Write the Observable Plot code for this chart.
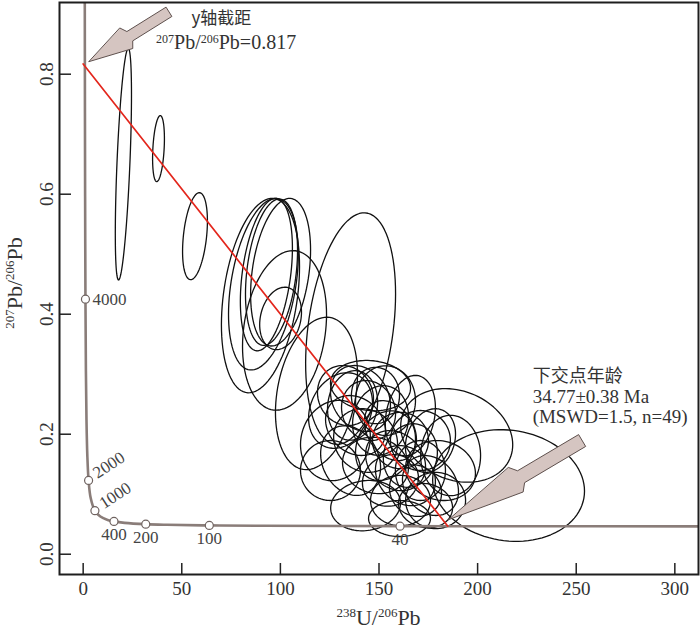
<!DOCTYPE html>
<html><head><meta charset="utf-8">
<script src="https://cdn.jsdelivr.net/npm/d3@7"></script>
<script src="https://cdn.jsdelivr.net/npm/@observablehq/plot@0.6"></script>
<style>body{margin:0;background:#fff}#chart{width:700px;height:631px}</style>
</head><body><div id="chart"></div>
<script>
// ---- data ----
const xTicks = [0, 50, 100, 150, 200, 250, 300];
const yTicks = [0.0, 0.2, 0.4, 0.6, 0.8];

// concordia curve (Tera-Wasserburg), read points
const concX = [0.8246,0.8533,0.9045,0.9902,1.1630,1.3868,1.6875,2.1108,2.7490,3.8169,5.9595,8.7182,12.399,15.621,20.992,31.735,42.477,63.966,91.59,160.66,214.37,312];
const concY = [0.9201,0.8453,0.7346,0.5967,0.4250,0.3058,0.2227,0.1643,0.1230,0.0936,0.0725,0.0628,0.0572,0.0547,0.0523,0.0501,0.0491,0.0480,0.0474,0.0468,0.0466,0.04645];

// age markers on concordia (Ma)
const ageLabels = [4000, 2000, 1000, 400, 200, 100, 40];
const ageX = [1.163, 2.749, 5.959, 15.621, 31.735, 63.966, 160.66];
const ageY = [0.4250, 0.1230, 0.0725, 0.0547, 0.0501, 0.0480, 0.0468];

// discordia line: upper intercept 0.817, lower intercept at 34.77 Ma
const discX = [0, 184.9];
const discY = [0.817, 0.0467];

// error ellipses: centre, half extents, correlation
const ellX  = [20.4,38.2,56.7,89.9,91.4,92.9,95.5,100.1,102.1,100.1,135.6,118.3,
  133.0,136.6,140.6,130.5,144.7,148.2,138.1,150.8,143.2,155.8,153.3,160.9,158.4,165.9,148.2,163.4,171.0,155.8,168.5,176.1,160.9,173.6,160.4,135.6,127.9,125.4,145.7,186.3,181.2,176.1,153.3,165.9,171.0,178.7,143.2,189.4,215.7];
const ellY  = [0.650,0.676,0.530,0.431,0.450,0.466,0.470,0.470,0.373,0.393,0.376,0.268,
  0.2645,0.248,0.2595,0.2395,0.2395,0.2645,0.2145,0.223,0.1895,0.206,0.181,0.1895,0.156,0.1645,0.148,0.131,0.1395,0.123,0.106,0.1145,0.0895,0.081,0.0595,0.156,0.1895,0.1395,0.281,0.1645,0.1395,0.1895,0.256,0.231,0.1895,0.0895,0.081,0.198,0.1145];
const ellSX = [4.1,3.0,6.3,19.8,17.7,13.2,13.2,15.2,21.3,10.6,22.8,20.8,
  14.2,12.7,15.2,16.2,13.7,12.2,15.2,14.2,16.2,13.2,15.2,14.2,15.2,13.7,16.7,15.2,12.7,14.2,13.2,14.2,15.2,13.7,15.7,15.2,17.7,15.2,20.3,15.2,17.7,12.7,15.2,12.7,15.2,15.2,17.7,28.4,38.5];
const ellSY = [0.193,0.055,0.0725,0.162,0.143,0.127,0.122,0.123,0.133,0.052,0.193,0.127,
  0.050,0.058,0.055,0.063,0.050,0.047,0.050,0.058,0.053,0.050,0.058,0.047,0.050,0.053,0.047,0.050,0.050,0.043,0.043,0.050,0.042,0.037,0.030,0.058,0.067,0.050,0.042,0.067,0.050,0.053,0.058,0.067,0.050,0.047,0.042,0.078,0.093];
const ellRho = [0.6,0.3,0.35,0.3,0.35,0.35,0.3,0.3,0.2,0.2,0.3,0.25,
  -0.1,0.1,-0.2,0.2,-0.1,0,-0.2,0.1,-0.1,-0.3,0.2,0,-0.2,0.1,-0.1,-0.2,0,0.1,-0.1,-0.2,0,-0.1,0,-0.2,0.1,0,-0.1,0,-0.1,0.2,0,0.2,0,0,0.1,-0.2,-0.1];

// annotation arrows (tip and tail in data units)
const arrowTipX = [3.0, 185.4], arrowTipY = [0.821, 0.0578];
const arrowTailX = [43.5, 253.0], arrowTailY = [0.904, 0.1895];

// ---- layout ----
const W = 700, H = 631, mL = 59, mR = 2, mT = 2, mB = 57;
const xDom = [-12, 312], yDom = [-0.0338, 0.9195];
const xs = d3.scaleLinear(xDom, [mL, W - mR]);
const ys = d3.scaleLinear(yDom, [H - mB, mT]);

// ellipse outlines from parameters
const ellPts = [];
ellX.forEach((cx, i) => {
  const n = 96, r = ellRho[i], q = Math.sqrt(1 - r * r);
  for (let k = 0; k < n; k++) {
    const t = 2 * Math.PI * k / n;
    ellPts.push({id: i, x: cx + ellSX[i] * Math.cos(t), y: ellY[i] + ellSY[i] * (r * Math.cos(t) + q * Math.sin(t))});
  }
});
const conc = concX.map((x, i) => ({x, y: concY[i]}));
const ages = ageLabels.map((a, i) => ({age: a, x: ageX[i], y: ageY[i]}));
const disc = discX.map((x, i) => ({x, y: discY[i]}));

// block-arrow polygons (shape sizes in px)
const arrowShape = [
  {headLen: 44, headHalf: 12, notchLen: 48, shaftHalf: 5.5},
  {headLen: 78, headHalf: 14.2, notchLen: 84, shaftHalf: 6.9}
];
const arrowPts = [];
arrowTipX.forEach((_, i) => {
  const tx = xs(arrowTipX[i]), ty = ys(arrowTipY[i]);
  const ex = xs(arrowTailX[i]), ey = ys(arrowTailY[i]);
  const L = Math.hypot(ex - tx, ey - ty), ux = (ex - tx) / L, uy = (ey - ty) / L;
  const nx = -uy, ny = ux;
  const s = arrowShape[i];
  const P = [
    [tx, ty],
    [tx + ux * s.headLen + nx * s.headHalf, ty + uy * s.headLen + ny * s.headHalf],
    [tx + ux * s.notchLen + nx * s.shaftHalf, ty + uy * s.notchLen + ny * s.shaftHalf],
    [ex + nx * s.shaftHalf, ey + ny * s.shaftHalf],
    [ex - nx * s.shaftHalf, ey - ny * s.shaftHalf],
    [tx + ux * s.notchLen - nx * s.shaftHalf, ty + uy * s.notchLen - ny * s.shaftHalf],
    [tx + ux * s.headLen - nx * s.headHalf, ty + uy * s.headLen - ny * s.headHalf]
  ];
  P.forEach(([px, py]) => arrowPts.push({id: i, x: xs.invert(px), y: ys.invert(py)}));
});

const serif = "Liberation Serif, Times New Roman, serif";
const cjk = "Noto Sans CJK SC, sans-serif";
const txt = "#333";

const plot = Plot.plot({
  width: W, height: H, marginLeft: mL, marginRight: mR, marginTop: mT, marginBottom: mB,
  x: {domain: xDom, axis: null},
  y: {domain: yDom, axis: null},
  style: {background: "#fff", fontFamily: serif},
  marks: [
    Plot.line(ellPts, {x: "x", y: "y", z: "id", curve: "linear-closed", stroke: "#111", strokeWidth: 1.3, fill: "none", clip: true}),
    Plot.line(conc, {x: "x", y: "y", curve: "catmull-rom", stroke: "#8a7d79", strokeWidth: 2.6, clip: true}),
    Plot.line(disc, {x: "x", y: "y", stroke: "#e3261c", strokeWidth: 1.7}),
    Plot.dot(ages, {x: "x", y: "y", r: 4, fill: "#fff", stroke: "#6f6360", strokeWidth: 1.2}),
    Plot.text(ages.filter(d => d.age === 4000), {x: "x", y: "y", text: d => String(d.age), textAnchor: "start", dx: 7, fontSize: 17, fill: "#444", fontFamily: serif}),
    Plot.text(ages.filter(d => d.age === 2000 || d.age === 1000), {x: "x", y: "y", text: d => String(d.age), textAnchor: "start", rotate: -33, dx: 6, dy: -6, fontSize: 17, fill: "#444", fontFamily: serif}),
    Plot.text(ages.filter(d => d.age <= 400), {x: "x", y: "y", text: d => String(d.age), dy: 13, fontSize: 17, fill: "#444", fontFamily: serif}),
    Plot.line(arrowPts, {x: "x", y: "y", z: "id", curve: "linear-closed", fill: "#d5c5c1", stroke: "#5e504d", strokeWidth: 1}),
    Plot.ruleX(xTicks, {x: d => d, y1: yDom[0], y2: yDom[0] + 11 / 600, stroke: "#222", strokeWidth: 1.5}),
    Plot.ruleY(yTicks, {y: d => d, x1: xDom[0], x2: xDom[0] + 12 / 1.972, stroke: "#222", strokeWidth: 1.5}),
    Plot.text(xTicks, {x: d => d, y: yDom[0], text: d => String(d), dy: 14, fontSize: 19, fill: txt, fontFamily: serif}),
    Plot.text(yTicks, {y: d => d, x: xDom[0], text: d => d.toFixed(1), dx: -12.5, rotate: -90, fontSize: 19, fill: txt, fontFamily: serif}),
    Plot.text(["下交点年龄"], {x: 227.9, y: 0.2862, text: d => d, textAnchor: "start", lineAnchor: "bottom", fontSize: 18, fill: txt, fontFamily: cjk}),
    Plot.text(["34.77±0.38 Ma"], {x: 227.9, y: 0.2512, text: d => d, textAnchor: "start", lineAnchor: "bottom", fontSize: 19, fill: txt, fontFamily: serif}),
    Plot.text(["(MSWD=1.5, n=49)"], {x: 227.9, y: 0.2195, text: d => d, textAnchor: "start", lineAnchor: "bottom", fontSize: 19, fill: txt, fontFamily: serif}),
    Plot.text(["y轴截距"], {x: 70.1, y: 0.8925, text: d => d, lineAnchor: "middle", fontSize: 17, fill: txt, fontFamily: cjk}),
    Plot.frame({stroke: "#1e1e1e", strokeWidth: 2})
  ]
});

// rich text with superscripts
function richText(svg, x, y, parts, opts) {
  const t = svg.append("text")
    .attr("font-family", serif).attr("fill", txt)
    .attr("font-size", opts.size).attr("text-anchor", opts.anchor || "start")
    .attr("transform", `translate(${x},${y})` + (opts.rotate ? ` rotate(${opts.rotate})` : ""));
  let shifted = false;
  parts.forEach(p => {
    const sp = t.append("tspan").text(p.t);
    if (p.sup) {
      sp.attr("font-size", opts.supSize);
      if (!shifted) { sp.attr("dy", -opts.shift); shifted = true; }
    } else if (shifted) { sp.attr("dy", opts.shift); shifted = false; }
  });
}
const svg = d3.select(plot);
const pbParts = [{t: "207", sup: true}, {t: "Pb/"}, {t: "206", sup: true}, {t: "Pb"}];
richText(svg, 378.5, 625, [{t: "238", sup: true}, {t: "U/"}, {t: "206", sup: true}, {t: "Pb"}], {size: 22, supSize: 13, shift: 8, anchor: "middle"});
richText(svg, 22, 283, pbParts, {size: 22, supSize: 13, shift: 8, anchor: "middle", rotate: -90});
richText(svg, xs(37.2), ys(0.8405), [...pbParts, {t: "=0.817"}], {size: 20, supSize: 12, shift: 6, anchor: "start"});

document.getElementById("chart").appendChild(plot);
</script>
</body></html>
